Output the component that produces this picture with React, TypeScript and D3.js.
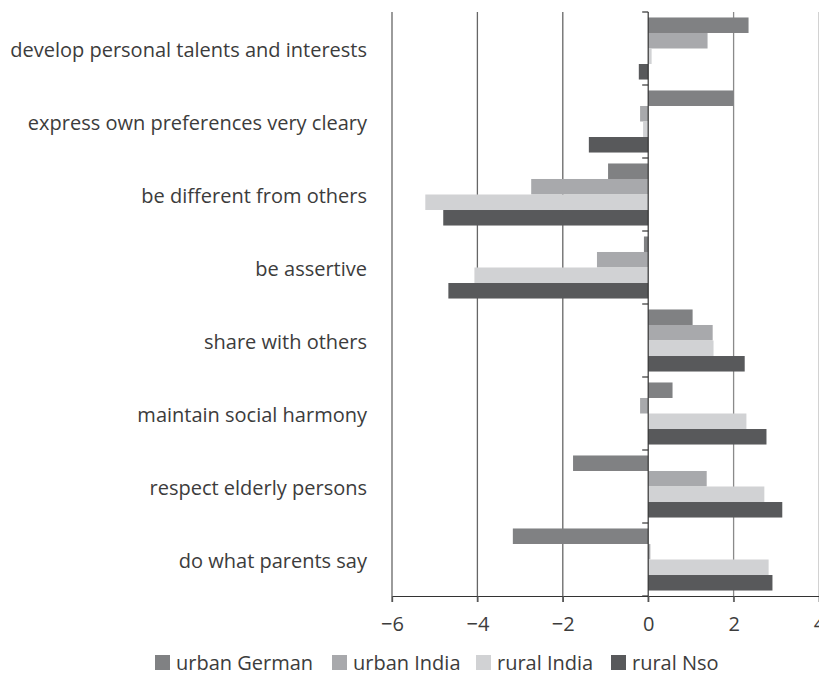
import React, { useEffect, useRef } from "react";
import * as d3 from "d3";

const categories = [
  "develop personal talents and interests",
  "express own preferences very cleary",
  "be different from others",
  "be assertive",
  "share with others",
  "maintain social harmony",
  "respect elderly persons",
  "do what parents say",
];

const seriesNames = ["urban German", "urban India", "rural India", "rural Nso"];
const seriesColors = ["#808183", "#a8a9ac", "#d1d2d4", "#58595b"];

const urbanGerman = [2.35, 2.0, -0.94, -0.1, 1.04, 0.57, -1.76, -3.17];
const urbanIndia = [1.39, -0.19, -2.74, -1.2, 1.51, -0.19, 1.37, 0.05];
const ruralIndia = [0.08, -0.12, -5.22, -4.07, 1.53, 2.3, 2.72, 2.82];
const ruralNso = [-0.22, -1.39, -4.8, -4.68, 2.26, 2.77, 3.14, 2.91];

const xTicks = [-6, -4, -2, 0, 2, 4];

const App = () => {
  const ref = useRef<SVGSVGElement>(null);

  useEffect(() => {
    const svg = d3.select(ref.current);
    svg.selectAll("*").remove();

    const top = 12;
    const bottom = 596;
    const font = "'Open Sans', Lato, sans-serif";
    const textColor = "#3c3c3c";
    const fontSize = "20px";

    const values = [urbanGerman, urbanIndia, ruralIndia, ruralNso];

    const x = d3.scaleLinear().domain([-6, 4]).range([392, 819]);

    const y = d3
      .scaleBand()
      .domain(categories)
      .range([top, bottom])
      .paddingInner(0.15)
      .paddingOuter(0.075);

    const sub = d3
      .scaleBand()
      .domain(seriesNames)
      .range([0, y.bandwidth()])
      .padding(0);

    const step = (bottom - top) / categories.length;

    // grid lines
    svg
      .append("g")
      .selectAll("line")
      .data(xTicks.filter((t) => t !== 0))
      .enter()
      .append("line")
      .attr("x1", (d) => x(d))
      .attr("x2", (d) => x(d))
      .attr("y1", top)
      .attr("y2", bottom + 6)
      .attr("stroke", (d) => (d < 0 ? "#666" : d === 2 ? "#8a8a8a" : "#bbb"))
      .attr("stroke-width", 1.3);

    // bars
    seriesNames.forEach((s, si) => {
      svg
        .append("g")
        .selectAll("rect")
        .data(categories)
        .enter()
        .append("rect")
        .attr("x", (d, i) => Math.min(x(0), x(values[si][i])))
        .attr("y", (d) => (y(d) as number) + (sub(s) as number))
        .attr("width", (d, i) => Math.abs(x(values[si][i]) - x(0)))
        .attr("height", sub.bandwidth())
        .attr("fill", seriesColors[si]);
    });

    // zero axis with ticks
    svg
      .append("line")
      .attr("x1", x(0))
      .attr("x2", x(0))
      .attr("y1", top)
      .attr("y2", bottom + 6)
      .attr("stroke", "#333")
      .attr("stroke-width", 1.2);

    svg
      .append("g")
      .selectAll("line")
      .data(d3.range(categories.length + 1))
      .enter()
      .append("line")
      .attr("x1", x(0) - 6)
      .attr("x2", x(0))
      .attr("y1", (d) => top + d * step)
      .attr("y2", (d) => top + d * step)
      .attr("stroke", "#333")
      .attr("stroke-width", 1.2);

    // bottom axis
    const xAxis = svg
      .append("g")
      .attr("transform", `translate(0, ${bottom})`)
      .call(
        d3
          .axisBottom(x)
          .tickValues(xTicks)
          .tickSize(6)
          .tickSizeOuter(0)
          .tickPadding(15)
          .tickFormat((d) => d3.format("d")(d as number).replace("-", "\u2013"))
      );
    xAxis.select(".domain").attr("stroke", "#333").attr("stroke-width", 1.2);
    xAxis.selectAll(".tick line").attr("stroke", "#555").attr("stroke-width", 1.3);
    xAxis
      .selectAll(".tick text")
      .attr("fill", textColor)
      .style("font-family", font)
      .style("font-size", fontSize);

    // category labels
    svg
      .append("g")
      .selectAll("text")
      .data(categories)
      .enter()
      .append("text")
      .attr("x", 367)
      .attr("y", (d) => (y(d) as number) + y.bandwidth() / 2 + 1)
      .attr("dy", "0.35em")
      .attr("text-anchor", "end")
      .attr("fill", textColor)
      .style("font-family", font)
      .style("font-size", fontSize)
      .text((d) => d);

    // legend
    const legendX = [155, 332, 476, 611];
    const legend = svg
      .append("g")
      .selectAll("g")
      .data(seriesNames)
      .enter()
      .append("g")
      .attr("transform", (d, i) => `translate(${legendX[i]}, 663)`);
    legend
      .append("rect")
      .attr("x", 0)
      .attr("y", -8)
      .attr("width", 15)
      .attr("height", 15)
      .attr("fill", (d, i) => seriesColors[i]);
    legend
      .append("text")
      .attr("x", 21)
      .attr("y", 0)
      .attr("dy", "0.35em")
      .attr("fill", textColor)
      .style("font-family", font)
      .style("font-size", fontSize)
      .text((d) => d);
  }, []);

  return (
    <svg
      ref={ref}
      width={819}
      height={678}
      style={{ position: "absolute", left: 0, top: 0, background: "#fff" }}
    ></svg>
  );
};

export default App;
